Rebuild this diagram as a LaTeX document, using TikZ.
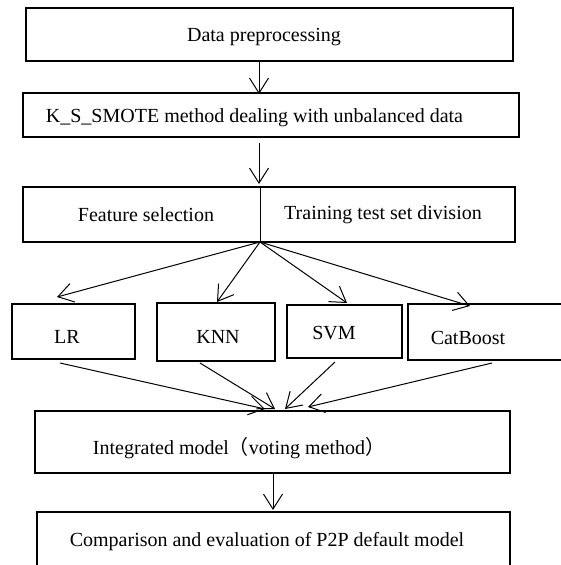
\documentclass[tikz,border=0pt]{standalone}
\usepackage{fontspec}
\setmainfont{Liberation Serif}
\newfontfamily\cjkfont{Noto Sans CJK SC}
\usetikzlibrary{arrows.meta}
\tikzset{
  box/.style={draw, line width=2.3pt, inner sep=0pt},
  lbl/.style={inner sep=0pt, font=\fontsize{20}{23}\selectfont},
  conn/.style={line width=1pt, -{Straight Barb[length=15pt,width=19pt,line width=1pt]}},
  plain/.style={line width=1pt}
}
\begin{document}
\begin{tikzpicture}[x=1pt,y=-1pt]
\useasboundingbox (0,0) rectangle (561,565);
% boxes
\node[box, minimum width=487pt, minimum height=53pt] (b1) at (269.5,34.5) {};
\node[lbl] (t1) at (264,37) {Data preprocessing};
\node[box, minimum width=496pt, minimum height=44pt] (b2) at (271,115) {};
\node[lbl] (t2) at (254.5,118) {K\_S\_SMOTE method dealing with unbalanced data};
\node[box, minimum width=492pt, minimum height=55pt] (b3) at (269,214.5) {};
\node[lbl] (t3a) at (146,215) {Feature selection};
\node[lbl] (t3b) at (383,215) {Training test set division};
\node[box, minimum width=123pt, minimum height=55pt] (lr) at (73.5,331.5) {};
\node[lbl] (tlr) at (67,337) {LR};
\node[box, minimum width=118pt, minimum height=58pt] (knn) at (216,332) {};
\node[lbl] (tknn) at (218,337) {KNN};
\node[box, minimum width=115pt, minimum height=53pt] (svm) at (344.5,331.5) {};
\node[lbl] (tsvm) at (334,333) {SVM};
\node[box, minimum width=182pt, minimum height=56pt] (cat) at (499,332) {};
\node[lbl] (tcat) at (468,338) {CatBoost};
\node[box, minimum width=475pt, minimum height=62pt] (int) at (272.5,442) {};
\node[lbl] (tint) at (239,448) {Integrated model{\cjkfont （}voting method{\cjkfont ）}};
\node[box, minimum width=473pt, minimum height=100pt] (cmp) at (273.5,562) {};
\node[lbl] (tcmp) at (267,542) {Comparison and evaluation of P2P default model};
% coordinates
\coordinate (a1s) at (259,61);   \coordinate (a1e) at (259,94);
\coordinate (a2s) at (259,143);  \coordinate (a2e) at (259,184);
\coordinate (dvt) at (260,187);  \coordinate (dvb) at (260,242);
\coordinate (elr) at (57,297);   \coordinate (eknn) at (217,302);
\coordinate (esvm) at (347,303); \coordinate (ecat) at (470,306);
\coordinate (slr) at (60,363);   \coordinate (sknn) at (200,363);
\coordinate (ssvm) at (335,362); \coordinate (scat) at (492,363);
\coordinate (ilr) at (265,409);  \coordinate (iknn) at (275,409);
\coordinate (isvm) at (285,409); \coordinate (icat) at (308,407);
\coordinate (a5s) at (273,473);  \coordinate (a5e) at (273,510);
% connectors
\draw[conn] (a1s) -- (a1e);
\draw[conn] (a2s) -- (a2e);
\draw[plain] (dvt) -- (dvb);
\draw[conn] (dvb) -- (elr);
\draw[conn] (dvb) -- (eknn);
\draw[conn] (dvb) -- (esvm);
\draw[conn] (dvb) -- (ecat);
\draw[conn] (slr) -- (ilr);
\draw[conn] (sknn) -- (iknn);
\draw[conn] (ssvm) -- (isvm);
\draw[conn] (scat) -- (icat);
\draw[conn] (a5s) -- (a5e);
\end{tikzpicture}
\end{document}
